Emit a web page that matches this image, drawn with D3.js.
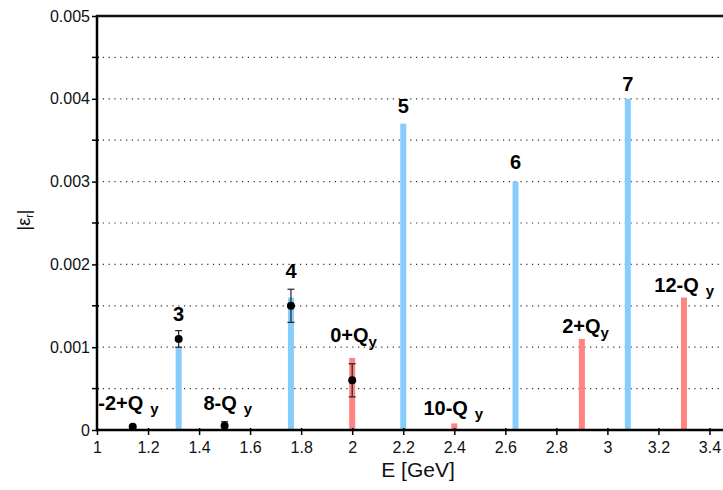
<!DOCTYPE html>
<html>
<head>
<meta charset="utf-8">
<script src="https://cdn.jsdelivr.net/npm/d3@7"></script>
<style>
  body { margin: 0; background: #fff; }
  svg { font-family: "Liberation Sans", Arial, sans-serif; }
</style>
</head>
<body>
<svg id="chart" width="723" height="490"></svg>
<script>
// resonance lines (integer)
var resE = [1.32, 1.76, 2.2, 2.64, 3.08];
var resEps = [0.0010, 0.0016, 0.0037, 0.0030, 0.0040];
// sideband lines (k +/- Qy)
var sideE = [2.0, 2.4, 2.9, 3.3];
var sideEps = [0.00087, 0.00008, 0.0011, 0.0016];
// measured points with errors
var measE = [1.14, 1.32, 1.5, 1.76, 2.0];
var measEps = [0.00004, 0.0011, 0.00005, 0.0015, 0.0006];
var measErr = [0.0, 0.0001, 0.00005, 0.0002, 0.0002];
// labels
var numLabels = ["3", "4", "5", "6", "7"];
var numLabelE = [1.32, 1.76, 2.2, 2.64, 3.08];
var numLabelEps = [0.00132, 0.00184, 0.00383, 0.00315, 0.00409];
var qLabels = ["-2+Q", "8-Q", "0+Q", "10-Q", "2+Q", "12-Q"];
var qLabelSpaced = [true, true, false, true, false, true];
var qLabelE = [1.005, 1.417, 1.914, 2.279, 2.823, 3.184];
var qLabelEps = [0.00024, 0.00024, 0.00106, 0.00018, 0.00117, 0.00167];
var xTicks = [1, 1.2, 1.4, 1.6, 1.8, 2, 2.2, 2.4, 2.6, 2.8, 3, 3.2, 3.4];
var yTicks = [0, 0.001, 0.002, 0.003, 0.004, 0.005];
var yMinor = [0.0005, 0.0015, 0.0025, 0.0035, 0.0045];

function draw() {
  var svg = d3.select("#chart"),
      left = 97, bottom = 430, top = 16;

  var x = d3.scaleLinear().domain([1, 3.5]).range([left, left + 2.5 * 255.2]);
  var y = d3.scaleLinear().domain([0, 0.005]).range([bottom, top]);

  // dotted grid
  svg.append("g")
    .selectAll("line")
    .data(yMinor.concat(yTicks.slice(1, 5)))
    .enter().append("line")
      .attr("x1", left).attr("x2", 723)
      .attr("y1", function(d) { return y(d); })
      .attr("y2", function(d) { return y(d); })
      .attr("stroke", "#333")
      .attr("stroke-width", 1.2)
      .attr("stroke-dasharray", "1.2,4.6");

  // bars
  svg.append("g")
    .selectAll("rect")
    .data(resE)
    .enter().append("rect")
      .attr("x", function(d) { return x(d) - 3; })
      .attr("width", 6)
      .attr("y", function(d, i) { return y(resEps[i]); })
      .attr("height", function(d, i) { return bottom - y(resEps[i]); })
      .attr("fill", "#87cdfb");

  svg.append("g")
    .selectAll("rect")
    .data(sideE)
    .enter().append("rect")
      .attr("x", function(d) { return x(d) - 3; })
      .attr("width", 6)
      .attr("y", function(d, i) { return y(sideEps[i]); })
      .attr("height", function(d, i) { return bottom - y(sideEps[i]); })
      .attr("fill", "#ff8383");

  // error bars
  var eb = svg.append("g").attr("stroke", "#222").attr("stroke-width", 1.2);
  measE.forEach(function(e, i) {
    if (measErr[i] <= 0) return;
    var y1 = y(measEps[i] + measErr[i]), y0 = y(Math.max(0, measEps[i] - measErr[i]));
    eb.append("line").attr("x1", x(e)).attr("x2", x(e)).attr("y1", y1).attr("y2", y0);
    eb.append("line").attr("x1", x(e) - 3.5).attr("x2", x(e) + 3.5).attr("y1", y1).attr("y2", y1);
    eb.append("line").attr("x1", x(e) - 3.5).attr("x2", x(e) + 3.5).attr("y1", y0).attr("y2", y0);
  });

  svg.append("g")
    .selectAll("circle")
    .data(measE)
    .enter().append("circle")
      .attr("cx", function(d) { return x(d); })
      .attr("cy", function(d, i) { return y(measEps[i]); })
      .attr("r", 4)
      .attr("fill", "#000");

  // axes
  var xAxis = svg.append("g")
      .attr("transform", "translate(0," + bottom + ")")
      .call(d3.axisBottom(x).tickValues(xTicks).tickSize(5).tickFormat(d3.format("")));
  xAxis.select(".domain").remove();
  xAxis.selectAll(".tick line").attr("stroke", "#000").attr("stroke-width", 1.5).attr("y1", -2);
  xAxis.selectAll(".tick text").attr("font-size", 16).attr("font-family", "Liberation Sans, Arial, sans-serif").attr("fill", "#111").attr("dy", "0.94em");

  var yAxis = svg.append("g")
      .attr("transform", "translate(" + left + ",0)")
      .call(d3.axisLeft(y).tickValues(yTicks).tickSize(5).tickFormat(function(d) { return d === 0 ? "0" : d3.format(".3f")(d); }));
  yAxis.select(".domain").remove();
  yAxis.selectAll(".tick line").attr("stroke", "#000").attr("stroke-width", 1.5).attr("x2", -5);
  yAxis.selectAll(".tick text").attr("font-size", 16).attr("font-family", "Liberation Sans, Arial, sans-serif").attr("fill", "#111").attr("x", -7);

  svg.append("g")
    .selectAll("line")
    .data(yMinor)
    .enter().append("line")
      .attr("x1", left - 5).attr("x2", left + 2)
      .attr("y1", function(d) { return y(d); })
      .attr("y2", function(d) { return y(d); })
      .attr("stroke", "#000").attr("stroke-width", 1.5);

  // frame lines
  svg.append("line").attr("x1", left).attr("x2", left).attr("y1", top - 1).attr("y2", bottom + 1)
    .attr("stroke", "#000").attr("stroke-width", 2.5);
  svg.append("line").attr("x1", left - 1).attr("x2", 723).attr("y1", bottom).attr("y2", bottom)
    .attr("stroke", "#000").attr("stroke-width", 2.5);
  svg.append("line").attr("x1", left - 1).attr("x2", 723).attr("y1", top).attr("y2", top)
    .attr("stroke", "#111").attr("stroke-width", 2.5);

  // labels
  svg.append("g")
    .selectAll("text")
    .data(numLabels)
    .enter().append("text")
      .attr("x", function(d, i) { return x(numLabelE[i]); })
      .attr("y", function(d, i) { return y(numLabelEps[i]); })
      .attr("text-anchor", "middle")
      .attr("font-size", 20)
      .attr("font-weight", "bold")
      .text(function(d) { return d; });

  var ql = svg.append("g")
    .selectAll("text")
    .data(qLabels)
    .enter().append("text")
      .attr("x", function(d, i) { return x(qLabelE[i]); })
      .attr("y", function(d, i) { return y(qLabelEps[i]); })
      .attr("font-size", 20)
      .attr("font-weight", "bold");
  ql.append("tspan").text(function(d) { return d; });
  ql.append("tspan")
      .attr("font-size", 15)
      .attr("dx", function(d, i) { return qLabelSpaced[i] ? 7 : 0; })
      .attr("dy", function(d, i) { return qLabelSpaced[i] ? 4 : 5; })
      .text("y");

  // axis titles
  svg.append("text")
      .attr("x", 418).attr("y", 477)
      .attr("text-anchor", "middle")
      .attr("font-size", 21)
      .attr("fill", "#111")
      .text("E [GeV]");

  var yl = svg.append("text")
      .attr("transform", "translate(30,220) rotate(-90)")
      .attr("text-anchor", "middle")
      .attr("font-size", 18)
      .attr("fill", "#111");
  yl.append("tspan").text("|ε");
  yl.append("tspan").attr("font-size", 11).attr("dy", 3).text("r");
  yl.append("tspan").attr("dy", -3).text("|");
}

draw();
</script>
</body>
</html>
